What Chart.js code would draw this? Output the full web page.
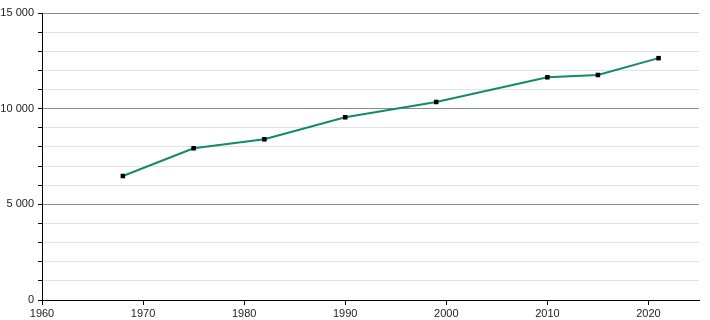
<!DOCTYPE html>
<html>
<head>
<meta charset="utf-8">
<script src="https://cdn.jsdelivr.net/npm/chart.js@4"></script>
<style>
  html, body { margin: 0; padding: 0; background: #fff; }
  #wrap { width: 710px; height: 320px; }
</style>
</head>
<body>
<div id="wrap"><canvas id="chart" width="710" height="320"></canvas></div>
<script>
// data
var years = [1968, 1975, 1982, 1990, 1999, 2010, 2015, 2021];
var population = [6480, 7930, 8400, 9550, 10350, 11640, 11760, 12640];

// formatting "15 000"
function spaced(v) {
    return v.toString().replace(/\B(?=(\d{3})+(?!\d))/g, ' ');
}

var points = [];
years.forEach((y, i) => {
    points.push({ x: y, y: population[i] });
});

const config = {
    type: 'line',
    data: {
        datasets: [{
            data: points,
            borderColor: '#14896b',
            borderWidth: 2,
            backgroundColor: '#000',
            pointStyle: 'rect',
            pointRadius: 3.2,
            pointBorderWidth: 0,
            pointBackgroundColor: '#000',
            tension: 0
        }]
    },
    options: {
        responsive: false,
        animation: false,
        layout: { padding: { top: 13, right: 11, bottom: 0, left: 0 } },
        plugins: { legend: { display: false }, tooltip: { enabled: false } },
        scales: {
            x: {
                type: 'linear',
                min: 1960,
                max: 2025,
                afterBuildTicks: function(scale) {
                    scale.ticks = scale.ticks.filter(t => t.value % 10 === 0);
                },
                afterFit: function(scale) { scale.height = 20; },
                ticks: {
                    stepSize: 10,
                    padding: 2,
                    color: '#222',
                    font: { family: 'Liberation Sans', size: 11 },
                    callback: v => v.toString(),
                    maxRotation: 0
                },
                grid: { drawOnChartArea: false, drawTicks: true, tickLength: 5, color: '#000' },
                border: { color: '#000', width: 1 }
            },
            y: {
                min: 0,
                max: 15000,
                afterFit: function(scale) { scale.width = 42; },
                ticks: {
                    stepSize: 1000,
                    autoSkip: false,
                    padding: 4,
                    color: '#222',
                    font: { family: 'Liberation Sans', size: 11 },
                    callback: v => (v % 5000 === 0 ? spaced(v) : '')
                },
                grid: {
                    tickLength: 4,
                    color: ctx => (ctx.tick && ctx.tick.value % 5000 === 0 ? '#8a8a8a' : '#e2e2e2'),
                    tickColor: '#000'
                },
                border: { color: '#000', width: 1 }
            }
        }
    }
};

const myChart = new Chart(document.getElementById('chart'), config);
</script>
</body>
</html>
